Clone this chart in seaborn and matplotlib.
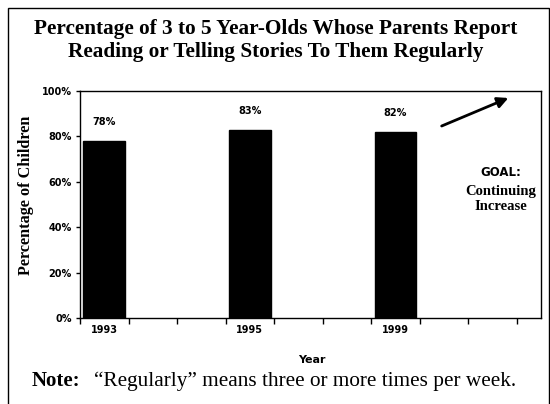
import matplotlib
matplotlib.use('Agg')
import matplotlib.pyplot as plt
from matplotlib.patches import Rectangle
import seaborn as sns
import numpy as np

# data
years = ['1993', '1995', '1999']
percent = [78, 83, 82]

# layout: each year sits in every third slot of the x axis
slots = [0, 3, 6]

sns.set_style('ticks', rc={'text.color': 'black', 'axes.labelcolor': 'black',
                           'xtick.color': 'black', 'ytick.color': 'black',
                           'axes.edgecolor': 'black'})
plt.rcParams['font.family'] = ['DejaVu Sans']

fig = plt.figure(figsize=(5.5, 4.04), dpi=100)
ax = fig.add_axes([80 / 550, 1 - 318 / 404, 461 / 550, 227 / 404])

sns.barplot(x=slots, y=percent, native_scale=True, width=0.86 / 3,
            color='black', saturation=1, edgecolor='black', ax=ax)

ax.set_xlim(-0.5, 9.0)
ax.set_ylim(0, 100)
for side in ['top', 'right', 'left', 'bottom']:
    ax.spines[side].set_visible(True)
    ax.spines[side].set_color('black')
    ax.spines[side].set_linewidth(1)

# y axis
ax.set_yticks(np.arange(0, 101, 20))
ax.set_yticklabels([f'{v}%' for v in range(0, 101, 20)], fontsize=7, fontweight='bold')
ax.tick_params(axis='y', length=3, width=1, pad=3)

# x axis: tick marks between slots, labels under bars
ax.set_xticks(np.arange(-0.5, 9, 1))
ax.set_xticklabels([])
ax.tick_params(axis='x', which='major', length=4, width=1)
ax.set_xticks(slots, minor=True)
ax.set_xticklabels(years, minor=True, fontsize=7, fontweight='bold')
ax.tick_params(axis='x', which='minor', length=0, pad=5)

ax.set_xlabel('Year', fontsize=8, fontweight='bold')
ax.xaxis.set_label_coords(0.503, -0.185)
ax.xaxis.label.set_va('center')
ax.set_ylabel('Percentage of Children', fontsize=11.7, fontweight='bold',
              family='Liberation Serif')
ax.yaxis.set_label_coords(-0.117, 0.54)
ax.yaxis.label.set_va('center')

ax.bar_label(ax.containers[0], fmt='%d%%', padding=10, fontsize=7, fontweight='bold')

# goal arrow and note
ax.annotate('', xy=(8.38, 97.4), xytext=(6.9, 84.1),
            arrowprops=dict(arrowstyle='-|>', lw=2, color='black', mutation_scale=16))
ax.text(8.17, 64, 'GOAL:', ha='center', va='center', fontsize=8.5, fontweight='bold')
ax.text(8.17, 52.6, 'Continuing\nIncrease', ha='center', va='center', fontsize=10.5,
        fontweight='bold', family='Liberation Serif', linespacing=1.2)

fig.text(0.502, 0.899, 'Percentage of 3 to 5 Year-Olds Whose Parents Report\n'
         'Reading or Telling Stories To Them Regularly',
         ha='center', va='center', fontsize=15.3, fontweight='bold',
         family='Liberation Serif', linespacing=1.22)

fig.text(32 / 550, 1 - 386 / 404, 'Note:', ha='left', va='baseline', fontsize=15,
         fontweight='bold', family='Liberation Serif')
fig.text(94 / 550, 1 - 386 / 404, '\u201cRegularly\u201d means three or more times per week.',
         ha='left', va='baseline', fontsize=15.3, family='Liberation Serif')

fig.patches.append(Rectangle((8 / 550, -0.05), 541 / 550, 1.03, transform=fig.transFigure,
                             fill=False, edgecolor='black', linewidth=1))

fig.savefig('out.png', dpi=100)
